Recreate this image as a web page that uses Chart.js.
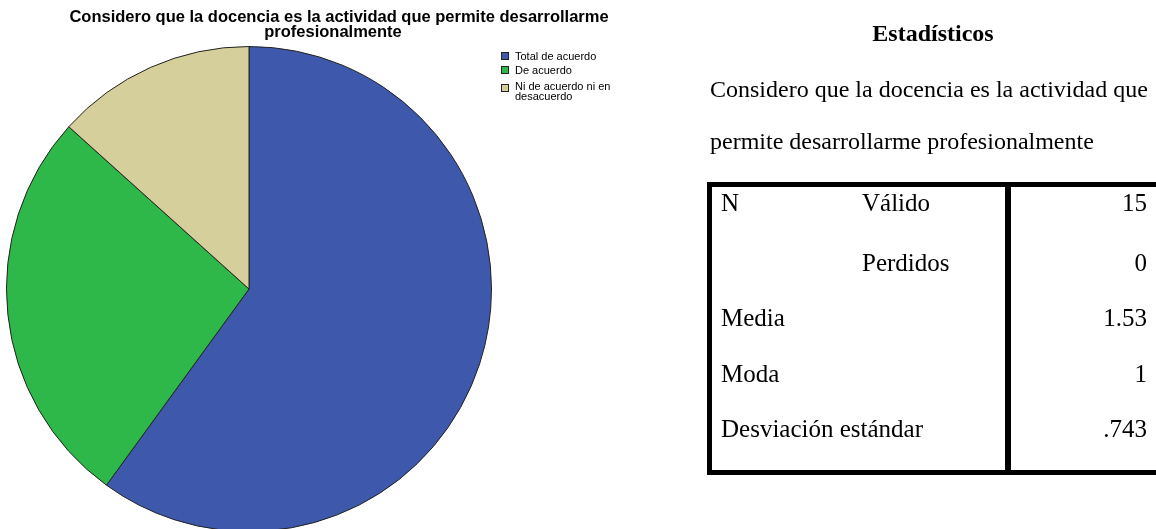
<!DOCTYPE html>
<html lang="es">
<head>
<meta charset="utf-8">
<script src="https://cdn.jsdelivr.net/npm/chart.js@4.4.1/dist/chart.umd.min.js"></script>
<style>
  html, body { margin: 0; padding: 0; width: 1156px; height: 529px; overflow: hidden; background: #fff; }
  #pie-wrap { position: absolute; left: 0; top: 0; width: 660px; height: 540px; }
  #stats { position: absolute; left: 0; top: 0; width: 1156px; height: 529px; font-family: "Liberation Serif", "Times New Roman", serif; color: #000; }
  #stats .t { position: absolute; white-space: nowrap; font-size: 25px; line-height: 1; }
  #stats .p { font-size: 24px; }
  #stats .head { font-weight: bold; font-size: 24px; left: 933px; top: 21px; transform: translateX(-50%); }
  #stat-table { position: absolute; left: 707px; top: 182px; width: 449px; height: 293px; box-sizing: border-box;
    border: 5px solid #000; border-right: none; }
  #divider { position: absolute; left: 1005px; top: 182px; width: 6px; height: 293px; background: #000; }
</style>
</head>
<body>
<div id="pie-wrap"><canvas id="chart" width="660" height="540"></canvas></div>
<div id="stats">
  <div class="t head">Estadísticos</div>
  <div class="t p" style="left:710px; top:77px;">Considero que la docencia es la actividad que</div>
  <div class="t p" style="left:710px; top:129px;">permite desarrollarme profesionalmente</div>
  <div id="stat-table"></div>
  <div id="divider"></div>
</div>
<script>
// frequencies for "Considero que la docencia es la actividad que permite desarrollarme profesionalmente"
const categories = ['Total de acuerdo', 'De acuerdo', 'Ni de acuerdo ni en desacuerdo'];
const legendLines = [['Total de acuerdo'], ['De acuerdo'], ['Ni de acuerdo ni en', 'desacuerdo']];
const counts = [9, 4, 2];
const sliceColors = ['#3e58ac', '#2fb84a', '#d4cf9b'];

// summary statistics table
const statGroup = ['N', '', 'Media', 'Moda', 'Desviación estándar'];
const statSub = ['Válido', 'Perdidos', '', '', ''];
const statValues = ['15', '0', '1.53', '1', '.743'];
const rowTops = [190, 250, 305, 361, 416];

const stats = document.getElementById('stats');
statGroup.forEach((g, i) => {
    const y = rowTops[i];
    if (g) {
        const d = document.createElement('div');
        d.className = 't'; d.style.left = '721px'; d.style.top = y + 'px'; d.textContent = g;
        stats.appendChild(d);
    }
    if (statSub[i]) {
        const d = document.createElement('div');
        d.className = 't'; d.style.left = '862px'; d.style.top = y + 'px'; d.textContent = statSub[i];
        stats.appendChild(d);
    }
    const v = document.createElement('div');
    v.className = 't'; v.style.right = '9px'; v.style.top = y + 'px'; v.textContent = statValues[i];
    stats.appendChild(v);
});

// title and legend drawn on the canvas, SPSS style
const spssDecor = {
    id: 'spssDecor',
    afterDraw(chart) {
        const ctx = chart.ctx;
        ctx.save();
        ctx.fillStyle = '#000';
        ctx.textAlign = 'center';
        ctx.textBaseline = 'middle';
        ctx.font = 'bold 16.5px "Liberation Sans", Arial, sans-serif';
        ctx.fillText('Considero que la docencia es la actividad que permite desarrollarme', 339, 17);
        ctx.fillText('profesionalmente', 333, 32);

        ctx.textAlign = 'left';
        ctx.font = '11px "Liberation Sans", Arial, sans-serif';
        const boxRows = [56, 70, 88];
        const textRows = [57, 71, 87];
        legendLines.forEach((lines, i) => {
            const y = boxRows[i];
            ctx.fillStyle = sliceColors[i];
            ctx.fillRect(501, y - 4, 8, 8);
            ctx.strokeStyle = '#222';
            ctx.lineWidth = 1;
            ctx.strokeRect(501.5, y - 3.5, 7, 7);
            ctx.fillStyle = '#000';
            lines.forEach((ln, j) => ctx.fillText(ln, 515, textRows[i] + j * 10));
        });
        ctx.restore();
    }
};

new Chart(document.getElementById('chart').getContext('2d'), {
    type: 'pie',
    data: {
        labels: categories,
        datasets: [{
            data: counts,
            backgroundColor: sliceColors,
            borderColor: '#222',
            borderWidth: 1
        }]
    },
    options: {
        responsive: false,
        animation: false,
        layout: { padding: { left: 6, top: 46, right: 168, bottom: 8 } },
        plugins: {
            legend: { display: false },
            title: { display: false },
            tooltip: { enabled: false }
        }
    },
    plugins: [spssDecor]
});
</script>
</body>
</html>
